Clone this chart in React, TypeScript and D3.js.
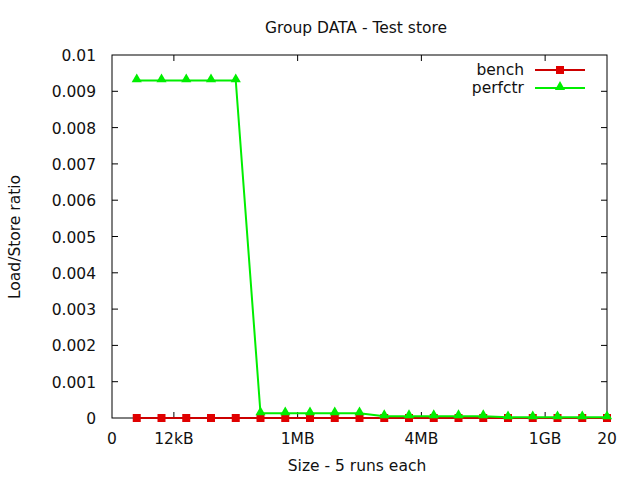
import React from "react";
import * as d3 from "d3";

const xs = [1, 2, 3, 4, 5, 6, 7, 8, 9, 10, 11, 12, 13, 14, 15, 16, 17, 18, 19, 20];
const bench = [0, 0, 0, 0, 0, 0, 0, 0, 0, 0, 0, 0, 0, 0, 0, 0, 0, 0, 0, 0];
const perfctr = [0.0093, 0.0093, 0.0093, 0.0093, 0.0093, 0.00013, 0.00013, 0.00013, 0.00013, 0.00013,
  0.00005, 0.00005, 0.00005, 0.00005, 0.00005, 0.00002, 0.00002, 0.00002, 0.00002, 0.00002];
const xTickVals = [0, 2.5, 7.5, 12.5, 17.5, 20];
const xTickLabels = ["0", "12kB", "1MB", "4MB", "1GB", "20"];
const yTicks = [0, 0.001, 0.002, 0.003, 0.004, 0.005, 0.006, 0.007, 0.008, 0.009, 0.01];
const yTickLabels = ["0", "0.001", "0.002", "0.003", "0.004", "0.005", "0.006", "0.007", "0.008", "0.009", "0.01"];

const L = 112, R = 607, T = 55, B = 418;
const font = "'DejaVu Sans', sans-serif";
const FS = 15.5;

export default function App() {
  const x = d3.scaleLinear().domain([0, 20]).range([L, R]);
  const y = d3.scaleLinear().domain([0, 0.01]).range([B, T]);
  const line = d3.line<number>().x((_, i) => x(xs[i])).y((d) => y(d));
  const tri = d3.symbol().type(d3.symbolTriangle).size(45)();
  const benchColor = "#cc0000";
  const benchMark = "#e00000";
  const perfColor = "#00ee00";
  return (
    <svg width={640} height={480} style={{ position: "absolute", left: 0, top: 0, background: "#fff" }} fontFamily={font} fill="#111">
      <rect x={0} y={0} width={640} height={480} fill="#fff" />
      <text x={356} y={33} textAnchor="middle" fontSize={FS}>Group DATA - Test store</text>
      {yTicks.map((t, i) => (
        <g key={"y" + i}>
          {i > 0 && i < yTicks.length - 1 && (
            <>
              <line x1={L} x2={L + 6} y1={y(t)} y2={y(t)} stroke="#000" />
              <line x1={R} x2={R - 6} y1={y(t)} y2={y(t)} stroke="#000" />
            </>
          )}
          <text x={96} y={y(t) + 6} textAnchor="end" fontSize={FS}>{yTickLabels[i]}</text>
        </g>
      ))}
      {xTickVals.map((t, i) => (
        <g key={"x" + i}>
          {i > 0 && i < xTickVals.length - 1 && (
            <>
              <line x1={x(t)} x2={x(t)} y1={B} y2={B - 6} stroke="#000" />
              <line x1={x(t)} x2={x(t)} y1={T} y2={T + 6} stroke="#000" />
            </>
          )}
          <text x={x(t)} y={444} textAnchor="middle" fontSize={FS}>{xTickLabels[i]}</text>
        </g>
      ))}
      <rect x={L} y={T} width={R - L} height={B - T} fill="none" stroke="#000" />
      <text x={357} y={471} textAnchor="middle" fontSize={FS}>Size - 5 runs each</text>
      <text transform={`translate(20,237) rotate(-90)`} textAnchor="middle" fontSize={FS}>Load/Store ratio</text>
      <path d={line(bench) || ""} fill="none" stroke={benchColor} strokeWidth={2} />
      {bench.map((v, i) => (
        <rect key={"b" + i} x={x(xs[i]) - 4} y={y(v) - 4} width={8} height={8} fill={benchMark} />
      ))}
      <path d={line(perfctr) || ""} fill="none" stroke={perfColor} strokeWidth={2} />
      {perfctr.map((v, i) => (
        <path key={"p" + i} d={tri || ""} transform={`translate(${x(xs[i])},${y(v) - 1})`} fill={perfColor} />
      ))}
      <text x={524} y={75} textAnchor="end" fontSize={FS}>bench</text>
      <line x1={535} x2={585} y1={70} y2={70} stroke={benchColor} strokeWidth={2} />
      <rect x={556} y={66} width={8} height={8} fill={benchMark} />
      <text x={524} y={93} textAnchor="end" fontSize={FS}>perfctr</text>
      <line x1={535} x2={585} y1={88} y2={88} stroke={perfColor} strokeWidth={2} />
      <path d={tri || ""} transform={`translate(560,87)`} fill={perfColor} />
    </svg>
  );
}
